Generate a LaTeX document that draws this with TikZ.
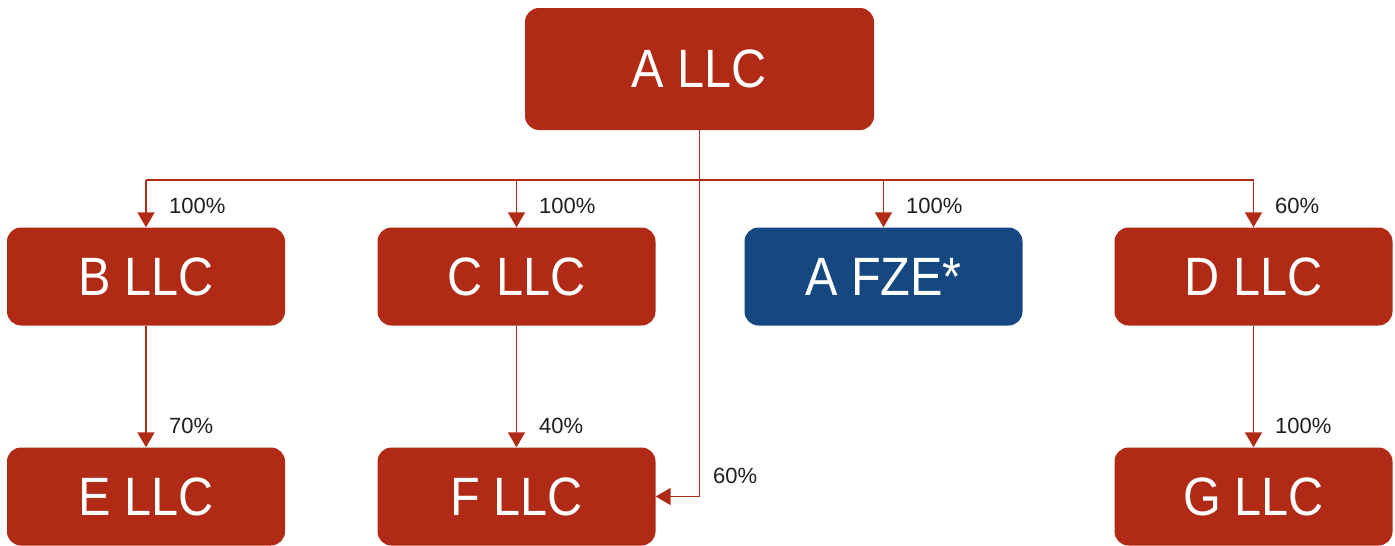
\documentclass[tikz,border=0pt]{standalone}
\usepackage{fontspec}
\setmainfont{Liberation Sans}
\newfontfamily\boxfont{Liberation Sans}[FakeStretch=0.9]
\usetikzlibrary{arrows.meta}
\definecolor{boxred}{RGB}{176,42,21}
\definecolor{boxblue}{RGB}{21,72,128}
\definecolor{labgray}{RGB}{30,30,30}
\tikzset{
  entity/.style={fill=boxred, draw=none, rounded corners=14pt, minimum width=278pt, minimum height=98pt, inner sep=0pt, text=white, font=\boxfont\fontsize{54}{60}\selectfont},
  bigentity/.style={entity, minimum width=349pt, minimum height=122pt},
  blueentity/.style={entity, fill=boxblue},
  link/.style={draw=boxred, line width=1.8pt},
  arr/.style={link, -{Triangle[length=15pt,width=17pt]}},
  pct/.style={anchor=west, inner sep=0pt, text=labgray, font=\fontsize{22}{26}\selectfont}
}
\begin{document}
\begin{tikzpicture}[x=1pt,y=-1pt]
\useasboundingbox (0,0) rectangle (1395,546);
\node[bigentity] (A) at (699.5,69) {A LLC};
\node[entity] (B) at (146,276.5) {B LLC};
\node[entity] (C) at (516.5,276.5) {C LLC};
\node[blueentity] (Z) at (883.5,276.5) {A FZE*};
\node[entity] (D) at (1253.5,276.5) {D LLC};
\node[entity] (E) at (146,496.5) {E LLC};
\node[entity] (F) at (516.5,496.5) {F LLC};
\node[entity] (G) at (1253.5,496.5) {G LLC};
\coordinate (j) at (699.5,180);
% trunk and bus
\draw[link] (A.south) -- (j);
\draw[link] (B.north |- j) -- (D.north |- j);
% arrows from bus
\draw[arr] (B.north |- j) -- (B.north);
\draw[arr] (C.north |- j) -- (C.north);
\draw[arr] (Z.north |- j) -- (Z.north);
\draw[arr] (D.north |- j) -- (D.north);
% second level
\draw[arr] (B.south) -- (E.north);
\draw[arr] (C.south) -- (F.north);
\draw[arr] (D.south) -- (G.north);
% A to F
\draw[arr] (j) -- (j |- F.east) -- (F.east);
% labels
\node[pct] (l1) at (169,206) {100\%};
\node[pct] (l2) at (539,206) {100\%};
\node[pct] (l3) at (906,206) {100\%};
\node[pct] (l4) at (1275,206) {60\%};
\node[pct] (l5) at (169,426) {70\%};
\node[pct] (l6) at (539,426) {40\%};
\node[pct] (l7) at (1275,426) {100\%};
\node[pct] (l8) at (713,476) {60\%};
\end{tikzpicture}
\end{document}
